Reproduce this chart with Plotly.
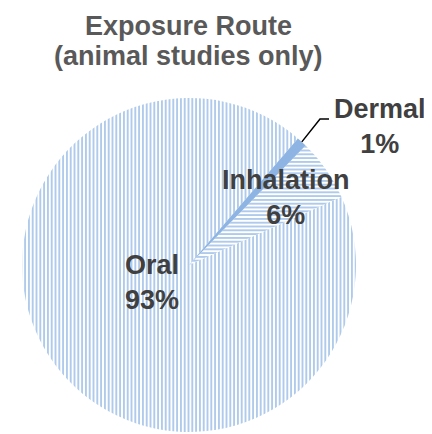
import math
import plotly.graph_objects as go

labels = ["Oral", "Inhalation", "Dermal"]
values = [93, 6, 1]
pattern_shapes = ["|", "-", ""]

W, H = 432, 434
OFF = 8  # default page body margin in px
CX, CY, R = 189, 265, 167  # pie centre / radius in page px
ROTATION = 65.9
BLUE = "#8DB4E2"
LABEL_COLOR = "#404040"
TITLE_COLOR = "#595959"
FONT = "Liberation Sans, Arial, sans-serif"


def px(x):
    return (x - OFF) / W


def py(y):
    return 1 - (y - OFF) / H


fig = go.Figure(go.Pie(
    labels=labels,
    values=values,
    sort=False,
    direction="counterclockwise",
    rotation=ROTATION,
    textinfo="none",
    hoverinfo="label+percent",
    showlegend=False,
    marker=dict(
        colors=[BLUE] * len(values),
        line=dict(width=0),
        pattern=dict(shape=pattern_shapes, fgcolor=BLUE, bgcolor="white",
                     size=3.8, solidity=0.35),
    ),
    domain=dict(x=[px(CX - R), px(CX + R)], y=[py(CY + R), py(CY - R)]),
))

# label positions (page px)
label_pos = {"Oral": (152, 282), "Inhalation": (286, 197), "Dermal": (380, 127)}
total = sum(values)
annotations = []
for lab, val in zip(labels, values):
    x, y = label_pos[lab]
    annotations.append(dict(
        x=px(x), y=py(y), xref="paper", yref="paper", showarrow=False,
        text=f"<b>{lab}</b><br><b>{round(100 * val / total)}%</b>",
        font=dict(family=FONT, size=27, color=LABEL_COLOR),
        xanchor="center", yanchor="middle",
    ))

# title
for txt, y in [("Exposure Route", 26), ("(animal studies only)", 56)]:
    annotations.append(dict(
        x=px(188), y=py(y), xref="paper", yref="paper", showarrow=False,
        text=f"<b>{txt}</b>", font=dict(family=FONT, size=27, color=TITLE_COLOR),
        xanchor="center", yanchor="middle",
    ))

# leader line for Dermal from slice mid-angle at the pie edge
mid = ROTATION - (values[1] + values[2] / 2) / total * 360
ang = math.radians(mid)
sx, sy = CX + R * math.sin(ang), CY - R * math.cos(ang)
path = f"M {px(sx)} {py(sy)} L {px(320)} {py(119)} L {px(329)} {py(119)}"

fig.update_layout(
    width=W, height=H,
    margin=dict(l=0, r=0, t=0, b=0),
    paper_bgcolor="white", plot_bgcolor="white",
    annotations=annotations,
    shapes=[dict(type="path", path=path, xref="paper", yref="paper",
                 line=dict(color="black", width=1.5))],
)

fig.write_html("out.html")
